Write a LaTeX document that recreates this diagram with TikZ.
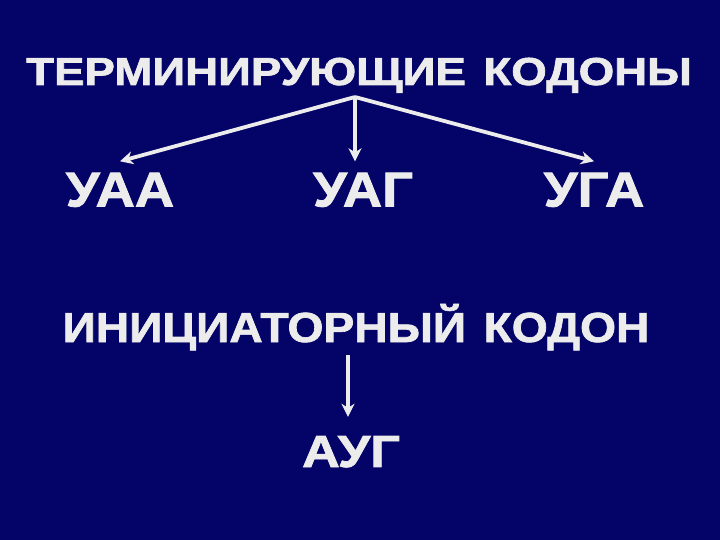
\documentclass[tikz,border=0pt]{standalone}
\usepackage{fontspec}
\setmainfont{Liberation Sans}[BoldFeatures={FakeBold=1.6}]
\usepackage{tikz}
\usetikzlibrary{arrows.meta}
\definecolor{slideblue}{RGB}{4,4,104}
\definecolor{slidetext}{RGB}{236,236,236}

\begin{document}
\begin{tikzpicture}[x=1pt,y=-1pt]
    \tikzstyle{bigword}=[text=slidetext,inner sep=0pt,text depth=0pt,transform shape]
    \tikzstyle{link}=[draw=slidetext,line width=3.8pt,-{Stealth[length=13pt,width=13pt,inset=4pt]}]

    \fill[slideblue] (0,0) rectangle (720,540);
    \useasboundingbox (0,0) rectangle (720,540);

    \node[bigword,xscale=1.17,text height=28pt,font=\bfseries\fontsize{39}{39}\selectfont] (stop) at (359,71) {ТЕРМИНИРУЮЩИЕ\hspace{15pt}КОДОНЫ};
    \node[bigword,xscale=1.11,text height=35pt,font=\bfseries\fontsize{49}{49}\selectfont] (uaa) at (120,189) {УАА};
    \node[bigword,xscale=1.11,text height=35pt,font=\bfseries\fontsize{49}{49}\selectfont] (uag) at (363,189) {УАГ};
    \node[bigword,xscale=1.11,text height=35pt,font=\bfseries\fontsize{49}{49}\selectfont] (uga) at (594,189) {УГА};
    \node[bigword,xscale=1.1,text height=30pt,font=\bfseries\fontsize{42}{42}\selectfont] (start) at (356,327) {ИНИЦИАТОРНЫЙ\hspace{16pt}КОДОН};
    \node[bigword,xscale=1.16,text height=32pt,font=\bfseries\fontsize{45}{45}\selectfont] (aug) at (351,451) {АУГ};

    \coordinate (split) at (355,97);
    \coordinate (down) at (348,355);

    \draw [link] (split)--([yshift=10pt]uaa.north);
    \draw [link] (split)--([xshift=-8pt,yshift=10pt]uag.north);
    \draw [link] (split)--([yshift=10pt]uga.north);
    \draw [link] (down)--([xshift=-3pt,yshift=18pt]aug.north);

\end{tikzpicture}
\end{document}
